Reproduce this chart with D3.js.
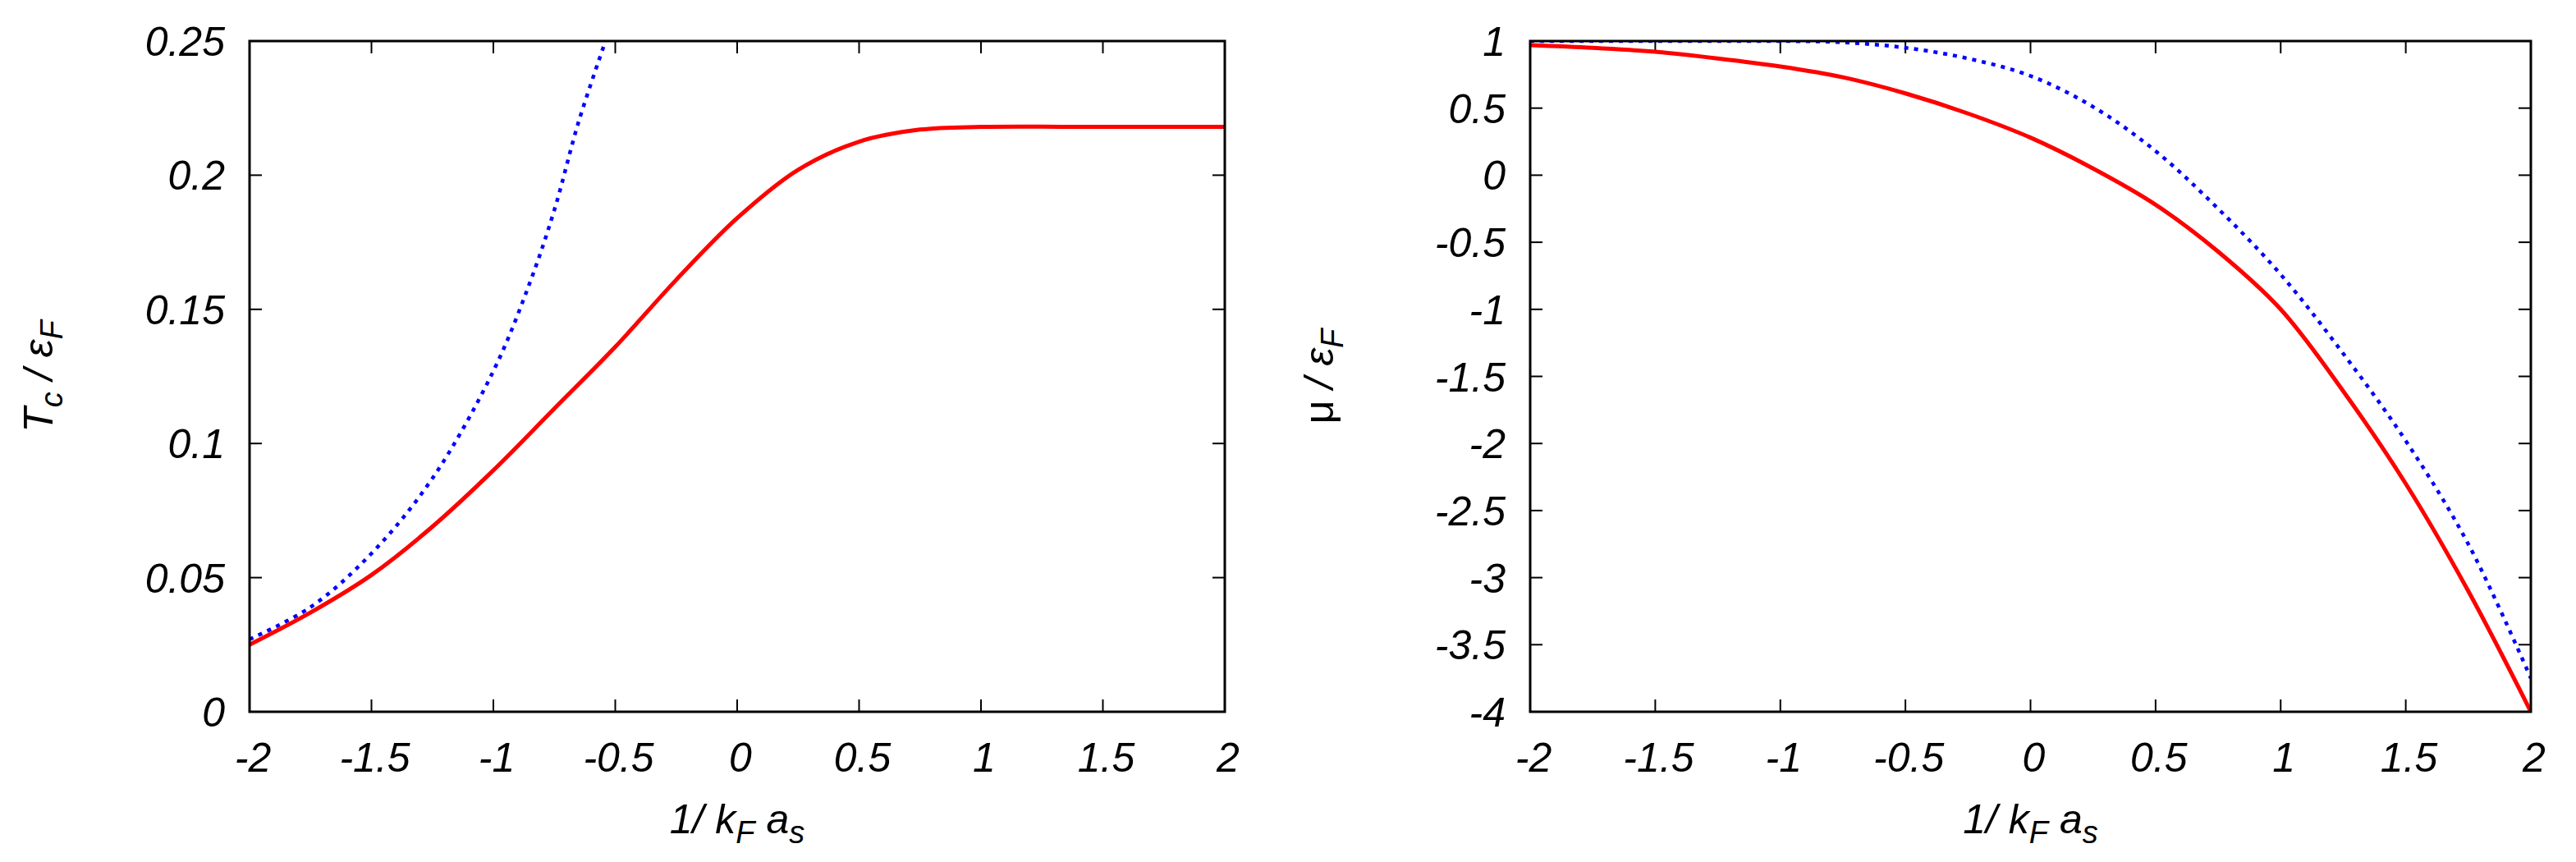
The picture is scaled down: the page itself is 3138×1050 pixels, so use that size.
<!DOCTYPE html>
<html>
<head>
<meta charset="utf-8">
<script src="https://cdn.jsdelivr.net/npm/d3@7"></script>
<style>
  body { margin: 0; background: #fff; }
  text { font-family: "Liberation Sans", Arial, sans-serif; font-style: italic; fill: #000; }
</style>
</head>
<body>
<svg id="chart" width="3138" height="1050"></svg>
<script>
// Tc / eF vs 1/kF a_s
const tcX = [-2, -1.75, -1.5, -1.25, -1, -0.75, -0.5, -0.25, 0, 0.25, 0.5, 0.75, 1, 1.5, 2];
const tcFull = [0.025, 0.037, 0.051, 0.069, 0.090, 0.113, 0.136, 0.161, 0.184, 0.202, 0.2125, 0.217, 0.218, 0.218, 0.218];
const tcBcsX = [-2, -1.75, -1.5, -1.25, -1, -0.85, -0.75, -0.65, -0.54];
const tcBcs = [0.027, 0.039, 0.059, 0.087, 0.127, 0.160, 0.187, 0.220, 0.25];

// mu / eF vs 1/kF a_s
const muX = [-2, -1.75, -1.5, -1.25, -1, -0.75, -0.5, -0.25, 0, 0.25, 0.5, 0.75, 1, 1.25, 1.5, 1.75, 2];
const muFull = [0.97, 0.95, 0.92, 0.87, 0.81, 0.73, 0.61, 0.46, 0.28, 0.05, -0.22, -0.57, -1.0, -1.61, -2.30, -3.10, -4.0];
const muBcs = [1.0, 1.0, 1.0, 1.0, 1.0, 0.99, 0.95, 0.87, 0.74, 0.51, 0.18, -0.25, -0.74, -1.33, -1.98, -2.75, -3.75];

const xTicks = [-2, -1.5, -1, -0.5, 0, 0.5, 1, 1.5, 2];
const tcTicks = [0, 0.05, 0.1, 0.15, 0.2, 0.25];
const muTicks = [1, 0.5, 0, -0.5, -1, -1.5, -2, -2.5, -3, -3.5, -4];

const svg = d3.select('#chart');
const fs = 50;

function panel(left, right, yDomain, yTicks, series, ylabel) {
  const top = 50, bottom = 867;
  const x = d3.scaleLinear().domain([-2, 2]).range([left, right]);
  const y = d3.scaleLinear().domain(yDomain).range([bottom, top]);
  const g = svg.append('g');

  g.append('defs').append('clipPath').attr('id', 'clip' + left)
    .append('rect').attr('x', left).attr('y', top).attr('width', right - left).attr('height', bottom - top);

  // ticks, inward and mirrored
  const tl = 15;
  xTicks.forEach(t => {
    g.append('line').attr('x1', x(t)).attr('x2', x(t)).attr('y1', bottom).attr('y2', bottom - tl).attr('stroke', '#000').attr('stroke-width', 2);
    g.append('line').attr('x1', x(t)).attr('x2', x(t)).attr('y1', top).attr('y2', top + tl).attr('stroke', '#000').attr('stroke-width', 2);
    g.append('text').attr('x', x(t) + 4).attr('y', 940).attr('text-anchor', 'middle').attr('font-size', fs).text(t);
  });
  yTicks.forEach(t => {
    g.append('line').attr('x1', left).attr('x2', left + tl).attr('y1', y(t)).attr('y2', y(t)).attr('stroke', '#000').attr('stroke-width', 2);
    g.append('line').attr('x1', right).attr('x2', right - tl).attr('y1', y(t)).attr('y2', y(t)).attr('stroke', '#000').attr('stroke-width', 2);
    g.append('text').attr('x', left - 30).attr('y', y(t) + 18).attr('text-anchor', 'end').attr('font-size', fs).text(t);
  });

  series.forEach(s => {
    const line = d3.line().x((d, i) => x(s.xs[i])).y(d => y(d)).curve(d3.curveCatmullRom);
    g.append('path').attr('d', line(s.ys)).attr('fill', 'none')
      .attr('stroke', s.color).attr('stroke-width', s.width)
      .attr('stroke-dasharray', s.dash || null)
      .attr('clip-path', `url(#clip${left})`);
  });

  g.append('rect').attr('x', left).attr('y', top).attr('width', right - left).attr('height', bottom - top)
    .attr('fill', 'none').attr('stroke', '#000').attr('stroke-width', 3);

  // x label: 1/ kF as
  const xl = g.append('text').attr('x', (left + right) / 2).attr('y', 1015).attr('text-anchor', 'middle').attr('font-size', fs);
  xl.append('tspan').text('1/ k');
  xl.append('tspan').attr('font-size', 38).attr('dy', 12).text('F');
  xl.append('tspan').attr('dy', -12).text(' a');
  xl.append('tspan').attr('font-size', 38).attr('dy', 12).text('s');

  // y label
  const yl = g.append('text').attr('transform', `translate(${left - 240},${(top + bottom) / 2}) rotate(-90)`)
    .attr('text-anchor', 'middle').attr('font-size', fs);
  ylabel(yl);
}

panel(304, 1492, [0, 0.25], tcTicks, [
  {xs: tcBcsX, ys: tcBcs, color: '#0000ff', width: 4.5, dash: '5,7'},
  {xs: tcX, ys: tcFull, color: '#ff0000', width: 5}
], yl => {
  yl.append('tspan').text('T');
  yl.append('tspan').attr('font-size', 38).attr('dy', 12).text('c');
  yl.append('tspan').attr('dy', -12).text(' / ε');
  yl.append('tspan').attr('font-size', 38).attr('dy', 12).text('F');
});

panel(1864, 3083, [-4, 1], muTicks, [
  {xs: muX, ys: muBcs, color: '#0000ff', width: 4.5, dash: '5,7'},
  {xs: muX, ys: muFull, color: '#ff0000', width: 5}
], yl => {
  yl.append('tspan').attr('font-style', 'normal').text('μ');
  yl.append('tspan').text(' / ε');
  yl.append('tspan').attr('font-size', 38).attr('dy', 12).text('F');
});
</script>
</body>
</html>
